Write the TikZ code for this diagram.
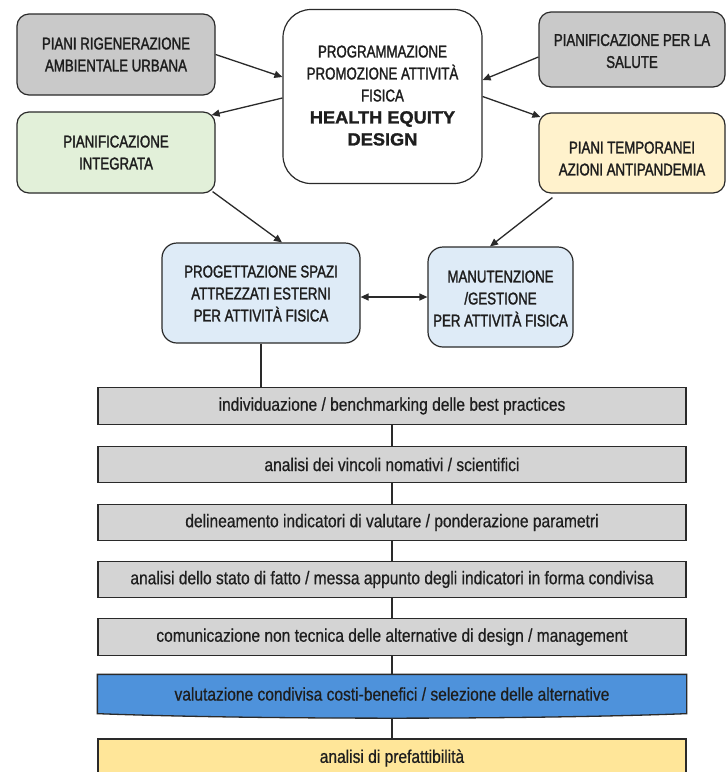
\documentclass[tikz,border=0pt]{standalone}
\usepackage{fontspec}
\setmainfont{Liberation Sans}
\newfontfamily\boxfont{Liberation Sans}[FakeStretch=0.78,FakeBold=1.6]
\newfontfamily\barfont{Liberation Sans}[FakeStretch=0.85,FakeBold=0.6]
\newfontfamily\headfont{Liberation Sans}[FakeStretch=1.04,FakeBold=1.4]
\usetikzlibrary{arrows.meta,calc}
\pgfdeclarelayer{bg}
\pgfsetlayers{bg,main}
\definecolor{boxgray}{HTML}{C9C9C9}
\definecolor{bargray}{HTML}{D4D4D4}
\definecolor{boxgreen}{HTML}{E2F0D9}
\definecolor{boxyellow}{HTML}{FFF2CC}
\definecolor{boxblue}{HTML}{DEEBF7}
\definecolor{barblue}{HTML}{4E92DB}
\definecolor{baryellow}{HTML}{FFE699}
\definecolor{ink}{HTML}{1E1E1E}
\definecolor{edge}{HTML}{2A2A2A}
\newcommand{\bt}[2]{\raisebox{-#1}[\height][\depth]{\begin{tabular}{@{}c@{}}#2\end{tabular}}}
\begin{document}
\begin{tikzpicture}[x=1pt,y=-1pt,
  topbox/.style={draw=edge,line width=1.2pt,rounded corners=12pt,inner sep=0pt,
    text=ink,font=\boxfont\fontsize{17}{22}\selectfont},
  midbox/.style={topbox,rounded corners=15pt},
  bigbox/.style={topbox,rounded corners=28pt,fill=white},
  barbox/.style={draw=edge,line width=1.3pt,inner sep=0pt,minimum width=588pt,
    text=ink,font=\barfont\fontsize{18.3}{20}\selectfont},
  arr/.style={draw=edge,line width=1.3pt,-{Triangle[length=8pt,width=7pt]}},
  darr/.style={draw=edge,line width=1.3pt,{Triangle[length=8pt,width=7pt]}-{Triangle[length=8pt,width=7pt]}},
  link/.style={draw=edge,line width=1.2pt}]
\useasboundingbox (0,0) rectangle (728,772);
\clip (0,0) rectangle (728,772);
\begin{pgfonlayer}{bg}
\fill[white] (0,0) rectangle (728,772);
\end{pgfonlayer}

% top boxes
\node[topbox,fill=boxgray,minimum width=198pt,minimum height=81pt] (A) at (116,54.5)
  {\bt{1.5pt}{PIANI RIGENERAZIONE\\AMBIENTALE URBANA}};
\node[topbox,fill=boxgreen,minimum width=198pt,minimum height=81pt] (B) at (116,152.5)
  {\bt{1.5pt}{PIANIFICAZIONE\\INTEGRATA}};
\node[bigbox,minimum width=199pt,minimum height=174pt] (P) at (382.5,96.5)
  {\bt{0.5pt}{PROGRAMMAZIONE\\PROMOZIONE ATTIVITÀ\\FISICA\\
   {\headfont\bfseries\fontsize{17.5}{22}\selectfont HEALTH EQUITY}\\
   {\headfont\bfseries\fontsize{17.5}{22}\selectfont DESIGN}}};
\node[topbox,fill=boxgray,minimum width=186pt,minimum height=75pt] (C) at (632,49.5)
  {\bt{3pt}{PIANIFICAZIONE PER LA\\SALUTE}};
\node[topbox,fill=boxyellow,minimum width=186pt,minimum height=80pt] (D) at (632,153)
  {\bt{7pt}{PIANI TEMPORANEI\\AZIONI ANTIPANDEMIA}};

% middle boxes
\node[midbox,fill=boxblue,minimum width=198pt,minimum height=100pt] (E) at (261,293)
  {\bt{2pt}{PROGETTAZIONE SPAZI\\ATTREZZATI ESTERNI\\PER ATTIVITÀ FISICA}};
\node[midbox,fill=boxblue,minimum width=145pt,minimum height=100pt] (F) at (500.5,297)
  {\bt{3pt}{MANUTENZIONE\\/GESTIONE\\PER ATTIVITÀ FISICA}};

% bars
\node[barbox,fill=bargray,minimum height=36.5pt] (b1) at (392,406)
  {individuazione / benchmarking delle best practices};
\node[barbox,fill=bargray,minimum height=36.5pt] (b2) at (392,464.5)
  {analisi dei vincoli nomativi / scientifici};
\node[barbox,fill=bargray,minimum height=36.5pt] (b3) at (392,522.5)
  {delineamento indicatori di valutare / ponderazione parametri};
\node[barbox,fill=bargray,minimum height=36.5pt] (b4) at (392,579.5)
  {analisi dello stato di fatto / messa appunto degli indicatori in forma condivisa};
\node[barbox,fill=bargray,minimum height=37pt] (b5) at (392,637)
  {comunicazione non tecnica delle alternative di design / management};
\node[barbox,draw=none,minimum height=38pt] (b6) at (392,694)
  {valutazione condivisa costi-benefici / selezione delle alternative};
\begin{pgfonlayer}{bg}
\filldraw[fill=barblue,draw=edge,line width=1.3pt]
  (b6.north west) -- (b6.north east) -- (b6.south east)
  .. controls ([xshift=-160pt,yshift=-6pt]b6.south east)
  and ([xshift=160pt,yshift=-6pt]b6.south west) .. (b6.south west) -- cycle;
\end{pgfonlayer}
\node[barbox,fill=baryellow,minimum height=38pt] (b7) at (392,758)
  {analisi di prefattibilità};

% connectors
\draw[arr] (A.east) -- ([yshift=19.5pt]P.west);
\draw[arr] ([yshift=-1.5pt]P.west) -- ([xshift=-4pt,yshift=37.5pt]B.east);
\draw[arr] ([yshift=-7.5pt]C.west) -- ([yshift=16.5pt]P.east);
\draw[arr] (P.east) -- ([xshift=2pt,yshift=36pt]D.west);
\draw[arr] ([xshift=-3pt,yshift=2pt]B.south east) -- ([xshift=21pt]E.north);
\draw[arr] ([xshift=14pt,yshift=-4pt]D.south west) -- ([xshift=-10.5pt]F.north);
\draw[darr] (F.west -| E.east) -- (F.west);
\draw[link] (E.south) -- (E.south |- b1.north);
\draw[link] (b1.south) -- (b2.north);
\draw[link] (b2.south) -- (b3.north);
\draw[link] (b3.south) -- (b4.north);
\draw[link] (b4.south) -- (b5.north);
\draw[link] (b5.south) -- (b6.north);
\draw[link] ([yshift=-5pt]b6.south) -- (b7.north);
\end{tikzpicture}
\end{document}
